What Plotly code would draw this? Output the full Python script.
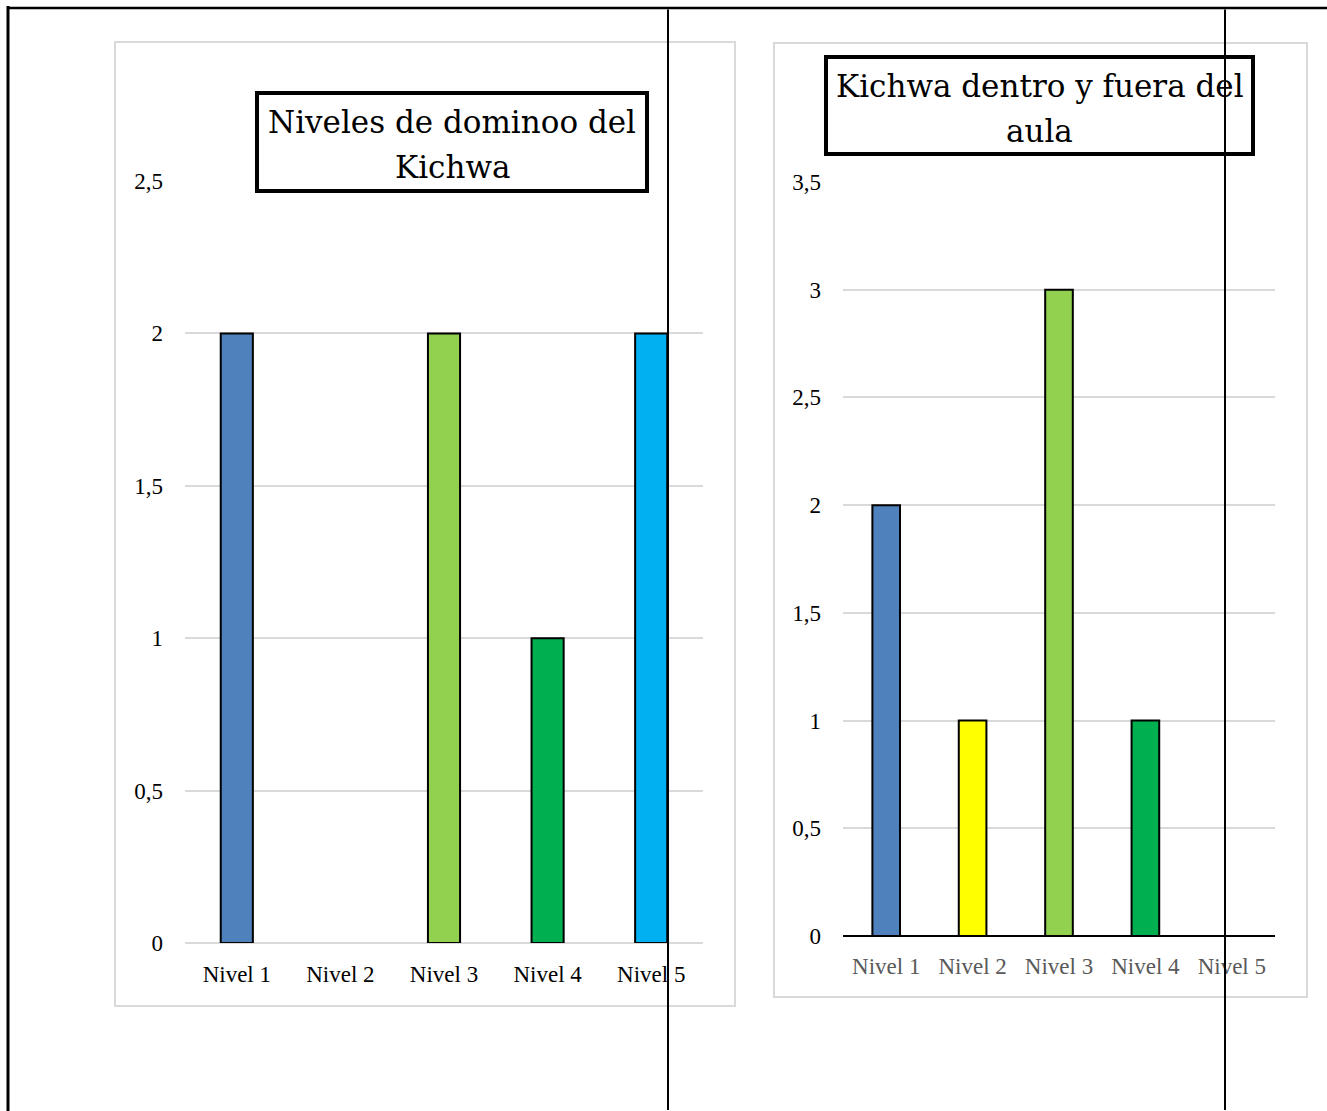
import plotly.graph_objects as go

# --- data -------------------------------------------------------------
niveles = ["Nivel 1", "Nivel 2", "Nivel 3", "Nivel 4", "Nivel 5"]

dominio_valores = [2, 0, 2, 1, 2]
dominio_colores = ["#4F81BD", "#FFFF00", "#92D050", "#00B050", "#00B0F0"]
dominio_ticks = [0, 0.5, 1, 1.5, 2, 2.5]
dominio_ticktext = ["0", "0,5", "1", "1,5", "2", "2,5"]

aula_valores = [2, 1, 3, 1, 0]
aula_colores = ["#4F81BD", "#FFFF00", "#92D050", "#00B050", "#00B0F0"]
aula_ticks = [0, 0.5, 1, 1.5, 2, 2.5, 3, 3.5]
aula_ticktext = ["0", "0,5", "1", "1,5", "2", "2,5", "3", "3,5"]

titulo_dominio = ["Niveles de dominoo del", "Kichwa"]
titulo_aula = ["Kichwa dentro y fuera del", "aula"]

# --- page geometry (pixels) -------------------------------------------
W, H = 1327, 1111


def fx(px):
    return px / W


def fy(py):
    return 1 - py / H


SERIF = "Liberation Serif"
TITLE_FONT = "DejaVu Serif"
GRID = "#D9D9D9"


def outline_widths(values):
    # empty categories get no outline, so nothing is drawn for them
    return [2 if v > 0 else 0 for v in values]


fig = go.Figure()

fig.add_trace(go.Bar(
    x=niveles, y=dominio_valores, width=0.31,
    marker=dict(color=dominio_colores,
                line=dict(color="black", width=outline_widths(dominio_valores))),
    xaxis="x", yaxis="y", showlegend=False, hoverinfo="x+y",
))
fig.add_trace(go.Bar(
    x=niveles, y=aula_valores, width=0.32,
    marker=dict(color=aula_colores,
                line=dict(color="black", width=outline_widths(aula_valores))),
    xaxis="x2", yaxis="y2", showlegend=False, hoverinfo="x+y",
))

axis_common = dict(fixedrange=True, automargin=False)

fig.update_layout(
    width=W, height=H,
    margin=dict(l=0, r=0, t=0, b=0, pad=0, autoexpand=False),
    paper_bgcolor="white", plot_bgcolor="rgba(0,0,0,0)",
    xaxis=dict(
        domain=[fx(185), fx(703)], anchor="y", type="category",
        showgrid=False, showline=False, zeroline=False, ticks="",
        tickfont=dict(family=SERIF, size=23, color="black"),
        ticklabelstandoff=15, **axis_common,
    ),
    yaxis=dict(
        domain=[fy(943), fy(181)], anchor="x", range=[0, 2.5],
        tickvals=dominio_ticks, ticktext=dominio_ticktext,
        showgrid=True, gridcolor=GRID, gridwidth=2,
        zeroline=True, zerolinecolor=GRID, zerolinewidth=2,
        showline=False, ticks="",
        tickfont=dict(family=SERIF, size=23, color="black"),
        ticklabelstandoff=21, **axis_common,
    ),
    xaxis2=dict(
        domain=[fx(843), fx(1275)], anchor="y2", type="category",
        showgrid=False, showline=False, zeroline=False, ticks="",
        tickfont=dict(family=SERIF, size=23, color="#595959"),
        ticklabelstandoff=14, **axis_common,
    ),
    yaxis2=dict(
        domain=[fy(936), fy(182)], anchor="x2", range=[0, 3.5],
        tickvals=aula_ticks, ticktext=aula_ticktext,
        showgrid=True, gridcolor=GRID, gridwidth=2,
        zeroline=True, zerolinecolor="black", zerolinewidth=2,
        showline=False, ticks="",
        tickfont=dict(family=SERIF, size=23, color="black"),
        ticklabelstandoff=21, **axis_common,
    ),
)

shapes = []
# chart panels
shapes.append(dict(type="rect", xref="paper", yref="paper",
                   x0=fx(115), x1=fx(735), y0=fy(1006), y1=fy(42),
                   line=dict(color=GRID, width=2), layer="below"))
shapes.append(dict(type="rect", xref="paper", yref="paper",
                   x0=fx(774), x1=fx(1307), y0=fy(997), y1=fy(43),
                   line=dict(color=GRID, width=2), layer="below"))
# title boxes
shapes.append(dict(type="rect", xref="paper", yref="paper",
                   x0=fx(257), x1=fx(647), y0=fy(191), y1=fy(93),
                   fillcolor="white", line=dict(color="black", width=4),
                   layer="above"))
shapes.append(dict(type="rect", xref="paper", yref="paper",
                   x0=fx(826), x1=fx(1253), y0=fy(154), y1=fy(57),
                   fillcolor="white", line=dict(color="black", width=4),
                   layer="above"))
# page frame
shapes.append(dict(type="line", xref="paper", yref="paper",
                   x0=fx(8), x1=fx(8), y0=fy(6), y1=0,
                   line=dict(color="black", width=3), layer="above"))
shapes.append(dict(type="line", xref="paper", yref="paper",
                   x0=fx(7), x1=1, y0=fy(8), y1=fy(8),
                   line=dict(color="black", width=2.5), layer="above"))
fig.update_layout(shapes=shapes)

annotations = []


def add_title(lines, cx, first_line_y, spacing):
    # each title line is placed on its own so the leading can be set
    for i, line in enumerate(lines):
        annotations.append(dict(
            xref="paper", yref="paper", x=fx(cx), y=fy(first_line_y + i * spacing),
            xanchor="center", yanchor="middle", showarrow=False,
            text=line, font=dict(family=TITLE_FONT, size=31, color="black"),
        ))


add_title(titulo_dominio, 452, 122, 45)
add_title(titulo_aula, 1039.5, 86, 45)

# column rules, drawn last so they sit over the titles
for xr in (668, 1225):
    annotations.append(dict(
        xref="paper", yref="paper", x=fx(xr), y=0, text="",
        showarrow=True, arrowhead=0, arrowwidth=2, arrowcolor="black",
        ax=0, ay=-(H - 8), axref="pixel", ayref="pixel", standoff=0,
        startstandoff=0, font=dict(size=1),
    ))
fig.update_layout(annotations=annotations)

fig.write_html("out.html")
